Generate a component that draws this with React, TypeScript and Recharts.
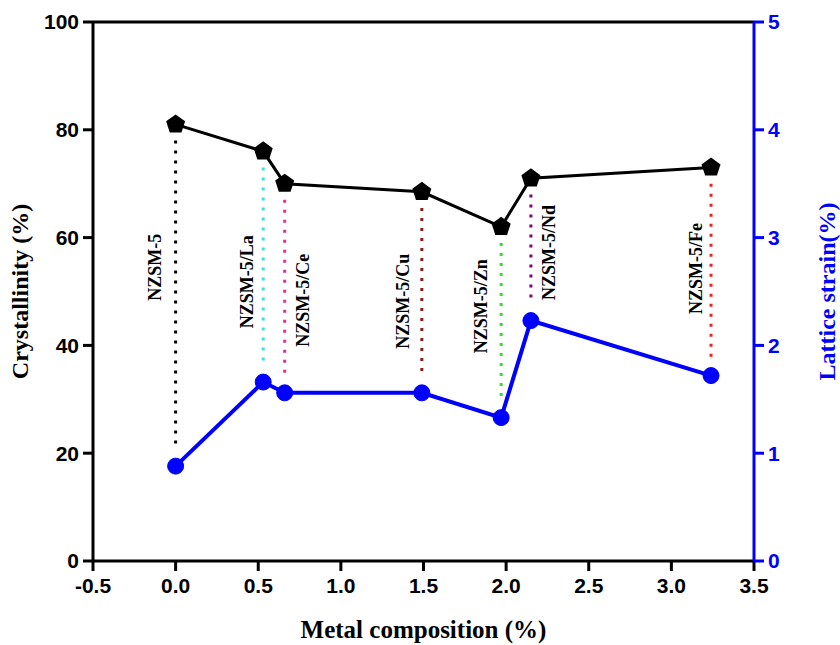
import { LineChart, Line, XAxis, YAxis, ReferenceLine } from 'recharts';

const composition = [0, 0.53, 0.66, 1.49, 1.97, 2.15, 3.24];
const samples = ['NZSM-5', 'NZSM-5/La', 'NZSM-5/Ce', 'NZSM-5/Cu', 'NZSM-5/Zn', 'NZSM-5/Nd', 'NZSM-5/Fe'];
const crystallinity = [81, 76, 70, 68.5, 62, 71, 73];
const latticeStrain = [0.88, 1.66, 1.56, 1.56, 1.33, 2.23, 1.72];

const xTicks = [-0.5, 0, 0.5, 1, 1.5, 2, 2.5, 3, 3.5];
const leftTicks = [0, 20, 40, 60, 80, 100];
const rightTicks = [0, 1, 2, 3, 4, 5];

// drop line colours + where each sample name sits next to its line
const dropColors = ['#000000', '#40e0e0', '#e0308a', '#8b1a1a', '#33dd33', '#800080', '#ee2222'];
const tagShift = [[-21, -28], [-16, 15], [18, 12], [-19, 9], [-20, -16], [18, 3], [-15, -3]];

const data = composition.map((x, i) => ({
  x,
  crystal: crystallinity[i],
  strain: latticeStrain[i],
}));

const tickFont = { fontFamily: 'Liberation Sans, Arial', fontWeight: 'bold', fontSize: 21 };
const serif = 'Liberation Serif, Times New Roman, serif';

const Pentagon = (props: any) => {
  const { cx, cy, index } = props;
  const r = 10;
  const pts = [0, 1, 2, 3, 4]
    .map((k) => {
      const a = -Math.PI / 2 + (k * 2 * Math.PI) / 5;
      return `${cx + r * Math.cos(a)},${cy + r * Math.sin(a)}`;
    })
    .join(' ');
  return <polygon key={`p-${index}`} points={pts} fill="#000" />;
};

const SampleTag = (props: any) => {
  const { viewBox, tag, shiftX, shiftY } = props;
  if (!viewBox) return null;
  const cx = viewBox.x + viewBox.width / 2 + shiftX;
  const cy = viewBox.y + viewBox.height / 2 + shiftY;
  return (
    <text
      x={cx}
      y={cy}
      transform={`rotate(-90 ${cx} ${cy})`}
      textAnchor="middle"
      dominantBaseline="central"
      fontFamily={serif}
      fontWeight="bold"
      fontSize={18}
      fill="#000"
    >
      {tag}
    </text>
  );
};

const AxisTitle = (props: any) => {
  const { viewBox, title, color, side } = props;
  if (!viewBox) return null;
  if (side === 'bottom') {
    return (
      <text x={viewBox.x + viewBox.width / 2} y={viewBox.y + 68} textAnchor="middle" dominantBaseline="central"
        fontFamily={serif} fontWeight="bold" fontSize={25} fill={color}>
        {title}
      </text>
    );
  }
  const cx = side === 'left' ? viewBox.x - 13 : viewBox.x + 73;
  const cy = viewBox.y + viewBox.height / 2;
  return (
    <text x={cx} y={cy} transform={`rotate(-90 ${cx} ${cy})`} textAnchor="middle" dominantBaseline="central"
      fontFamily={serif} fontWeight="bold" fontSize={24} fill={color}>
      {title}
    </text>
  );
};

export default function App() {
  return (
    <div style={{ position: 'absolute', left: 0, top: 0, width: 840, height: 645, background: '#fff' }}>
      <LineChart width={840} height={645} data={data} margin={{ top: 22, right: 56, bottom: 44, left: 33 }}>
        <XAxis
          dataKey="x"
          type="number"
          domain={[-0.5, 3.5]}
          ticks={xTicks}
          tickFormatter={(v) => Number(v).toFixed(1)}
          height={40}
          tickSize={10}
          tickMargin={7}
          axisLine={{ stroke: '#000', strokeWidth: 3 }}
          tickLine={{ stroke: '#000', strokeWidth: 3 }}
          tick={{ ...tickFont, fill: '#000' }}
          label={<AxisTitle title="Metal composition (%)" color="#000" side="bottom" />}
        />
        <YAxis
          yAxisId="left"
          orientation="left"
          domain={[0, 100]}
          ticks={leftTicks}
          width={60}
          tickSize={10}
          tickMargin={4}
          axisLine={{ stroke: '#000', strokeWidth: 3 }}
          tickLine={{ stroke: '#000', strokeWidth: 3 }}
          tick={{ ...tickFont, fill: '#000' }}
          label={<AxisTitle title="Crystallinity (%)" color="#000" side="left" />}
        />
        <YAxis
          yAxisId="right"
          orientation="right"
          domain={[0, 5]}
          ticks={rightTicks}
          width={30}
          tickSize={10}
          tickMargin={4}
          axisLine={{ stroke: '#0000ff', strokeWidth: 3 }}
          tickLine={{ stroke: '#0000ff', strokeWidth: 3 }}
          tick={{ ...tickFont, fill: '#0000ff' }}
          label={<AxisTitle title="Lattice strain(%)" color="#0000ff" side="right" />}
        />
        <ReferenceLine yAxisId="left" y={100} stroke="#000" strokeWidth={3} />
        {composition.map((x, i) => (
          <ReferenceLine
            key={samples[i]}
            yAxisId="left"
            segment={[
              { x, y: crystallinity[i] - 3 },
              { x, y: latticeStrain[i] * 20 + 3 },
            ]}
            stroke={dropColors[i]}
            strokeWidth={3}
            strokeDasharray="3 7"
            label={<SampleTag tag={samples[i]} shiftX={tagShift[i][0]} shiftY={tagShift[i][1]} />}
          />
        ))}
        <Line
          yAxisId="left"
          dataKey="crystal"
          stroke="#000"
          strokeWidth={3}
          dot={Pentagon}
          activeDot={false}
          isAnimationActive={false}
        />
        <Line
          yAxisId="right"
          dataKey="strain"
          stroke="#0000ff"
          strokeWidth={4}
          dot={{ r: 8, fill: '#0000ff', stroke: '#0000ff', strokeWidth: 1 }}
          activeDot={false}
          isAnimationActive={false}
        />
      </LineChart>
    </div>
  );
}
